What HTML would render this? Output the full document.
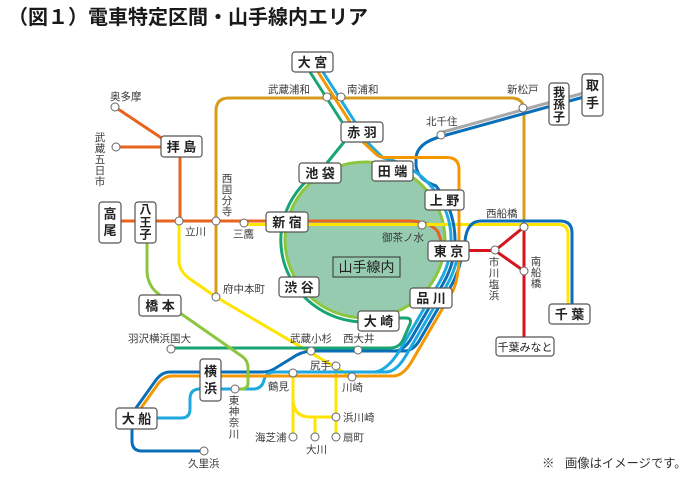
<!DOCTYPE html>
<html><head><meta charset="utf-8">
<style>
html,body{margin:0;padding:0;background:#fff;}
svg{display:block;}
text{font-family:"Liberation Sans","Noto Sans CJK JP",sans-serif;}
.b{font-size:13px;font-weight:bold;fill:#222;text-anchor:middle;}
.bv{font-size:12px;font-weight:bold;fill:#222;text-anchor:middle;}
.l{font-size:10.5px;fill:#3a3a3a;}
.v{font-size:10.5px;fill:#3a3a3a;text-anchor:middle;}
.bx{fill:#fff;stroke:#555;stroke-width:1.2;}
.st{fill:#fff;stroke:#666;stroke-width:1;}
.ln{fill:none;stroke-width:3;stroke-linejoin:round;}
</style></head><body>
<svg width="700" height="484" viewBox="0 0 700 484" xmlns="http://www.w3.org/2000/svg">
<rect width="700" height="484" fill="#fff"/>
<text x="8" y="24" font-size="20" font-weight="bold" fill="#1a1a1a">（図１）電車特定区間・山手線内エリア</text>

<!-- Yamanote area -->
<ellipse cx="365" cy="240" rx="80" ry="78" fill="#96cbb0" stroke="#8cc63e" stroke-width="3"/>

<!-- Musashino -->
<path class="ln" stroke="#d89c1c" d="M216,297 L216,111 Q216,98 229,98 L511,98 Q524,98 524,111 L524,227"/>

<!-- Chuo rapid / Ome / Itsukaichi -->
<path class="ln" stroke="#e8641e" d="M115,107 L163,139 M116,147 L161,147 M180,157 L180,221 M121,221 L135,221 M156,221 L266,221 M308,221 L408,221 Q430,221 438,232 L441,241"/>

<!-- Yellow Sobu/Chuo local -->
<path class="ln" stroke="#ffe400" d="M244,224.5 L558,224.5 Q568,224.5 568,234.5 L568,304"/>
<!-- Nambu -->
<path class="ln" stroke="#ffe400" d="M179,221 L179,262 Q180,272 190,279 L216,297 L352,377"/>
<!-- Tsurumi -->
<path class="ln" stroke="#ffe400" d="M293,373 L293,437 M293,402 Q295,417 310,417 L336,417 M315,417 L315,437 M336,366 L336,437"/>

<!-- Sobu rapid -->
<path class="ln" stroke="#0a6fb8" d="M465,241 Q467,221 481,221 L560,221 Q572,221 572,233 L572,304"/>

<!-- Keiyo -->
<path class="ln" stroke="#d7141e" d="M469,250.5 L495,250.5 L524,227 M495,250.5 L524,271 M524,227 L524,337"/>

<!-- Joban -->
<path class="ln" stroke="#a8a8a8" d="M441,132.5 L582,93.5"/>
<path class="ln" stroke="#0a6fb8" d="M582,97.5 L441,136.5 Q417,143 416,158 L416,166 Q418,180 435.9,185.8 A90,88 0 0 1 442.9,284 L411.5,338 Q403.9,351 394,351 L311,351 Q300,352 292,358 L274,369 Q269,372 262,372 L170,372 Q162,372 156,380 L136,408"/>
<path class="ln" stroke="#0a6fb8" d="M462,253.4 A98,96 0 0 1 449.9,288 L419.7,340 Q413.3,351 404,351 L394,351"/>
<path class="ln" stroke="#0a6fb8" d="M132,429 L132,441 Q132,451 142,451 L204,451"/>

<!-- Keihin-Tohoku -->
<path class="ln" stroke="#1ea9e1" d="M323,72 L355,122 M367,142 L382.9,157.8 A86,84 0 0 1 439.5,282 L401.1,348 Q387.1,372 373,372 L275,372 Q266,372 264,380 Q262,389 253,389 L200,389 Q190,389 190,399 L190,409 Q190,418 181,418 L157,418"/>
<path class="ln" stroke="#1ea9e1" d="M458.6,248 A94,92 0 0 1 446.4,286 L406.3,355 Q396.4,372 386,372 L373,372"/>

<!-- Tokaido / Utsunomiya -->
<path class="ln" stroke="#f39800" d="M318,72 L350,122 M363,142 L377,155 Q380,157.5 386,157.5 L447,157.5 Q459,157.5 459,169.5 L459,241 M459,261 C458,275 456,284 453.3,290 L412,361 Q403.3,376 393,376 L172,376 Q164,376 158,384 L141,408"/>

<!-- Saikyo -->
<path class="ln" stroke="#17a673" d="M310,72 L342,122 M344,142 L327,163 M316.8,172.8 A84,82 0 0 0 379.6,320.8 M399,318 L406,318 Q412,318 410,324 L403,340 Q399,348 390,348 L171,348"/>

<!-- Yokohama line -->
<path class="ln" stroke="#8cc63e" d="M147,243 L147,272 Q148,287 160,295 M180,313 L243,357 Q248,361 248,368 L248,383 Q248,389 241,389 L235,389"/>

<!-- Yamanote inner label -->
<rect x="333" y="257" width="67" height="20" fill="none" stroke="#333" stroke-width="1"/>
<text x="366.5" y="272" font-size="14" fill="#222" text-anchor="middle">山手線内</text>

<!-- station circles -->
<g class="st">
<circle cx="115" cy="107" r="4"/>
<circle cx="116" cy="147" r="4"/>
<circle cx="179" cy="221" r="4"/>
<circle cx="216" cy="221" r="4"/>
<circle cx="244" cy="223" r="4"/>
<circle cx="216" cy="297" r="4"/>
<circle cx="327" cy="97" r="4"/>
<circle cx="341" cy="97" r="4"/>
<circle cx="523" cy="108" r="4"/>
<circle cx="441" cy="135" r="4"/>
<circle cx="422" cy="225" r="4"/>
<circle cx="524" cy="227" r="4"/>
<circle cx="495" cy="250" r="4"/>
<circle cx="524" cy="271" r="4"/>
<circle cx="171" cy="349" r="4"/>
<circle cx="311" cy="351" r="4"/>
<circle cx="358" cy="350" r="4"/>
<circle cx="336" cy="366" r="4"/>
<circle cx="293" cy="373" r="4"/>
<circle cx="352" cy="377" r="4"/>
<circle cx="235" cy="389" r="4"/>
<circle cx="336" cy="417" r="4"/>
<circle cx="293" cy="437" r="4"/>
<circle cx="315" cy="437" r="4"/>
<circle cx="336" cy="437" r="4"/>
<circle cx="204" cy="451" r="4"/>
</g>

<!-- station labels -->
<text class="l" x="110" y="100">奥多摩</text>
<text class="v" x="100" y="141">武</text><text class="v" x="100" y="152">蔵</text><text class="v" x="100" y="163">五</text><text class="v" x="100" y="174">日</text><text class="v" x="100" y="185">市</text>
<text class="l" x="185" y="235">立川</text>
<text class="v" x="227" y="182">西</text><text class="v" x="227" y="193">国</text><text class="v" x="227" y="204">分</text><text class="v" x="227" y="215">寺</text>
<text class="l" x="233" y="237.5">三鷹</text>
<text class="l" x="223" y="292.5">府中本町</text>
<text class="l" x="268" y="93">武蔵浦和</text>
<text class="l" x="347" y="93">南浦和</text>
<text class="l" x="507" y="93">新松戸</text>
<text class="l" x="426" y="125">北千住</text>
<text class="l" x="382" y="241">御茶ノ水</text>
<text class="l" x="486" y="217">西船橋</text>
<text class="v" x="494" y="265.5">市</text><text class="v" x="494" y="276.7">川</text><text class="v" x="494" y="287.8">塩</text><text class="v" x="494" y="299">浜</text>
<text class="v" x="536" y="265">南</text><text class="v" x="536" y="276">船</text><text class="v" x="536" y="287">橋</text>
<text class="l" x="128" y="342">羽沢横浜国大</text>
<text class="l" x="290" y="342">武蔵小杉</text>
<text class="l" x="343" y="342">西大井</text>
<text class="l" x="310" y="369">尻手</text>
<text class="l" x="268" y="390">鶴見</text>
<text class="l" x="342" y="391">川崎</text>
<text class="v" x="234" y="404">東</text><text class="v" x="234" y="415">神</text><text class="v" x="234" y="426">奈</text><text class="v" x="234" y="437.5">川</text>
<text class="l" x="343" y="421">浜川崎</text>
<text class="l" x="255" y="441">海芝浦</text>
<text class="l" x="306" y="453">大川</text>
<text class="l" x="343" y="441">扇町</text>
<text class="l" x="188" y="467">久里浜</text>

<!-- boxes -->
<rect class="bx" x="292" y="52" width="41" height="20" rx="3"/><text class="b" x="312.5" y="67">大 宮</text>
<rect class="bx" x="341" y="122" width="42" height="20" rx="3"/><text class="b" x="362" y="137">赤 羽</text>
<rect class="bx" x="299" y="163" width="42" height="20" rx="3"/><text class="b" x="320" y="178">池 袋</text>
<rect class="bx" x="372" y="161" width="41" height="20" rx="3"/><text class="b" x="392.5" y="176">田 端</text>
<rect class="bx" x="425" y="190" width="39" height="20" rx="3"/><text class="b" x="444.5" y="205">上 野</text>
<rect class="bx" x="266" y="212" width="42" height="20" rx="3"/><text class="b" x="287" y="227">新 宿</text>
<rect class="bx" x="428" y="241" width="41" height="20" rx="3"/><text class="b" x="448.5" y="256">東 京</text>
<rect class="bx" x="279" y="277" width="40" height="20" rx="3"/><text class="b" x="299" y="292">渋 谷</text>
<rect class="bx" x="410" y="288" width="42" height="20" rx="3"/><text class="b" x="431" y="303">品 川</text>
<rect class="bx" x="358" y="311" width="41" height="20" rx="3"/><text class="b" x="378.5" y="326">大 崎</text>
<rect class="bx" x="549" y="304" width="41" height="20" rx="3"/><text class="b" x="569.5" y="319">千 葉</text>
<rect class="bx" x="496" y="337" width="58" height="19" rx="3"/><text x="525" y="351" font-size="11" fill="#222" text-anchor="middle">千葉みなと</text>
<rect class="bx" x="161" y="136" width="41" height="21" rx="3"/><text class="b" x="181.5" y="151.5">拝 島</text>
<rect class="bx" x="139" y="295" width="42" height="21" rx="3"/><text class="b" x="160" y="310.5">橋 本</text>
<rect class="bx" x="116" y="408" width="41" height="21" rx="3"/><text class="b" x="136.5" y="423.5">大 船</text>

<rect class="bx" x="99" y="202" width="22" height="41" rx="3"/><text class="b" x="110" y="218.5">高</text><text class="b" x="110" y="235">尾</text>
<rect class="bx" x="135" y="202" width="21" height="41" rx="3"/><text class="bv" x="145.5" y="213.5">八</text><text class="bv" x="145.5" y="226.5">王</text><text class="bv" x="145.5" y="238.5">子</text>
<rect class="bx" x="549" y="83" width="20" height="42" rx="3"/><text class="bv" x="559" y="96.5">我</text><text class="bv" x="559" y="108.5">孫</text><text class="bv" x="559" y="121">子</text>
<rect class="bx" x="582" y="74" width="21" height="42" rx="3"/><text class="b" x="592.5" y="90">取</text><text class="b" x="592.5" y="107.5">手</text>
<rect class="bx" x="200" y="359" width="21" height="42" rx="3"/><text class="b" x="210.5" y="376">横</text><text class="b" x="210.5" y="393">浜</text>

<!-- footnote -->
<text x="542" y="467.5" font-size="12.5" fill="#333">※</text>
<text x="565" y="467.5" font-size="12.3" fill="#333">画像はイメージです。</text>
</svg>
</body></html>
